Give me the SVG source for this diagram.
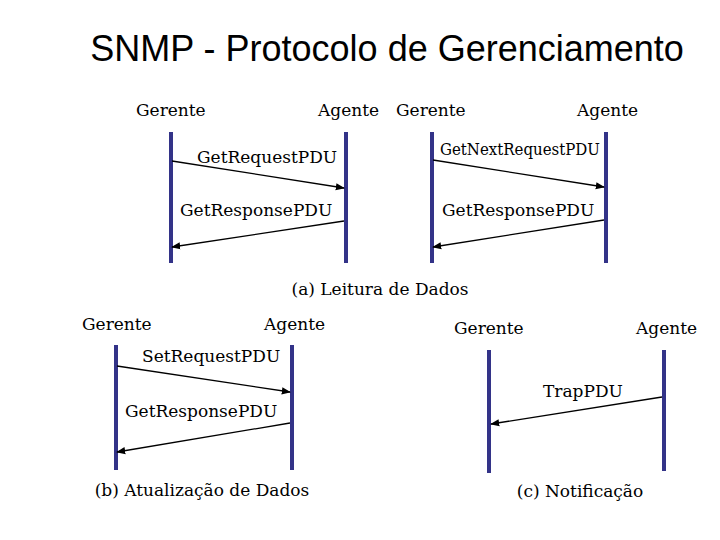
<svg xmlns="http://www.w3.org/2000/svg" width="720" height="540" viewBox="0 0 720 540">
<style>
.t{font-family:"DejaVu Serif",serif;font-size:17px;fill:#000}
.ln{stroke:#333388;stroke-width:4}
.ar{stroke:#000;stroke-width:1.3;fill:none;marker-end:url(#ah)}
</style>
<defs><marker id="ah" viewBox="0 0 10 10" refX="9" refY="5" markerWidth="7" markerHeight="7" orient="auto"><path d="M0,1 L10,5 L0,9 z" fill="#000"/></marker></defs>
<rect width="720" height="540" fill="#fff"/>
<text x="387" y="61" text-anchor="middle" style="font-family:'Liberation Sans',sans-serif;font-size:36px">SNMP - Protocolo de Gerenciamento</text>
<g id="panelA1">
<text class="t" x="136" y="116">Gerente</text><text class="t" x="318" y="116">Agente</text>
<line class="ln" x1="171" y1="132" x2="171" y2="263"/><line class="ln" x1="346" y1="132" x2="346" y2="263"/>
<text class="t" x="197" y="163">GetRequestPDU</text><text class="t" x="180" y="216">GetResponsePDU</text>
</g>
<g id="panelA2">
<text class="t" x="396" y="116">Gerente</text><text class="t" x="577" y="116">Agente</text>
<line class="ln" x1="432" y1="132" x2="432" y2="263"/><line class="ln" x1="606" y1="132" x2="606" y2="263"/>
<text class="t" x="440" y="155" textLength="160" lengthAdjust="spacingAndGlyphs">GetNextRequestPDU</text><text class="t" x="442" y="216">GetResponsePDU</text>
</g>
<text class="t" x="380" y="295" text-anchor="middle">(a) Leitura de Dados</text>
<g id="panelB">
<text class="t" x="82" y="330">Gerente</text><text class="t" x="264" y="330">Agente</text>
<line class="ln" x1="116" y1="345" x2="116" y2="470"/><line class="ln" x1="292" y1="345" x2="292" y2="470"/>
<text class="t" x="142" y="362">SetRequestPDU</text><text class="t" x="125" y="417">GetResponsePDU</text>
<text class="t" x="202" y="496" text-anchor="middle">(b) Atualização de Dados</text>
</g>
<g id="panelC">
<text class="t" x="454" y="334">Gerente</text><text class="t" x="636" y="334">Agente</text>
<line class="ln" x1="489" y1="350" x2="489" y2="473"/><line class="ln" x1="664" y1="350" x2="664" y2="471"/>
<text class="t" x="543" y="397">TrapPDU</text>
<text class="t" x="580" y="497" text-anchor="middle">(c) Notificação</text>
</g>
<g id="connectors">
<line class="ar" x1="172" y1="161" x2="344" y2="188"/>
<line class="ar" x1="344" y1="221" x2="172" y2="247"/>
<line class="ar" x1="433" y1="160" x2="604" y2="187"/>
<line class="ar" x1="604" y1="220" x2="433" y2="247"/>
<line class="ar" x1="117" y1="366" x2="290" y2="392"/>
<line class="ar" x1="290" y1="423" x2="117" y2="452"/>
<line class="ar" x1="662" y1="397" x2="491" y2="424"/>
</g>
</svg>
